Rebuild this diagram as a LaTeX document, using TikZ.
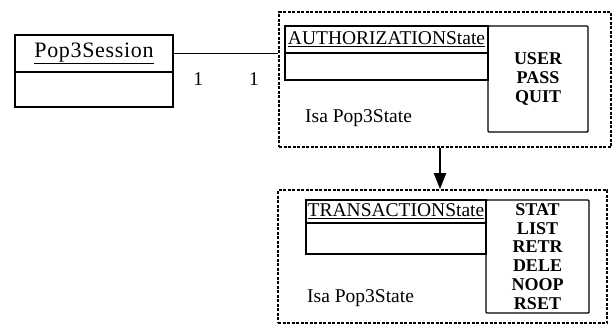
\documentclass[tikz,border=0pt]{standalone}
\usepackage{fontspec}
\setmainfont{Liberation Serif}
\usetikzlibrary{positioning, arrows.meta}

\begin{document}
\begin{tikzpicture}[x=1pt, y=-1pt, font=\fontsize{19.5}{18}\selectfont]
        \tikzstyle{classname}=[draw, rectangle, line width=1.4pt, inner sep=0pt, outer sep=0pt];
        \tikzstyle{classattr}=[draw, rectangle, line width=1.4pt, inner sep=0pt, outer sep=0pt];
        \tikzstyle{ops}=[draw, rectangle, rounded corners=1pt, line width=1.4pt, inner sep=2pt, outer sep=0pt, align=center, font=\fontsize{18}{18.8}\selectfont\bfseries];
        \tikzstyle{package}=[draw, rectangle, line width=1.7pt, dash pattern=on 3pt off 1.5pt, inner sep=0pt];

        \useasboundingbox (0,0) rectangle (612,327);

        % state packages
        \node[package, minimum width=332pt, minimum height=135pt] (authpkg) at (445,79.5) {};
        \node[package, minimum width=329pt, minimum height=133pt] (transpkg) at (442.5,256.5) {};

        % session class
        \node[classname, minimum width=158pt, minimum height=37pt] (sess) at (94,53.5) {\fontsize{22}{22}\selectfont\underline{\addfontfeature{LetterSpace=3}Pop3Session}};
        \node[classattr, minimum width=158pt, minimum height=35pt, below=0pt of sess] (sessattr) {};

        % AUTHORIZATION state
        \node[classname, minimum width=203pt, minimum height=27pt] (auth) at (386.5,39.5) {\underline{AUTHORIZATIONState}};
        \node[classattr, minimum width=203pt, minimum height=27pt, below=0pt of auth] (authattr) {};
        \node[ops, anchor=north west, minimum width=100pt, minimum height=106pt] (authops) at (auth.north east) {USER\\PASS\\QUIT};
        \node[anchor=west, inner sep=0pt] (authisa) at (305,118) {Isa Pop3State};

        % TRANSACTION state
        \node[classname, minimum width=180pt, minimum height=23pt] (trans) at (396,211.5) {\underline{TRANSACTIONState}};
        \node[classattr, minimum width=180pt, minimum height=31pt, below=0pt of trans] (transattr) {};
        \node[ops, anchor=north west, minimum width=103pt, minimum height=113pt] (transops) at (trans.north east) {STAT\\LIST\\RETR\\DELE\\NOOP\\RSET};
        \node[anchor=west, inner sep=0pt] (transisa) at (307,298) {Isa Pop3State};

        \draw[line width=1.4pt] (sess.east) -- (sess.east -| authpkg.west)
            node[pos=0.24, below=15pt] (multsess) {1}
            node[pos=0.77, below=15pt] (multauth) {1};
        \draw[line width=2.2pt, -{Triangle[length=16pt, width=12pt]}] ([xshift=-5pt]authpkg.south) -- ([xshift=-5pt]authpkg.south |- transpkg.north);
    \end{tikzpicture}
\end{document}
